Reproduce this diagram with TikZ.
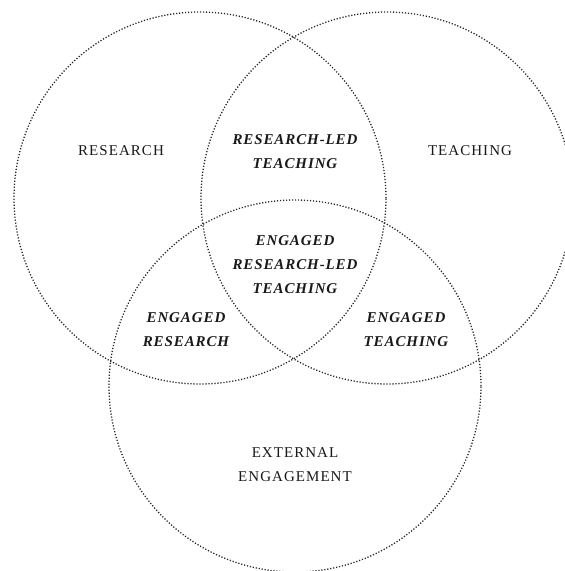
\documentclass[tikz,border=0pt]{standalone}
\usepackage{fontspec}
\setmainfont{Liberation Serif}
\usetikzlibrary{calc}

\tikzset{
 ring/.style={black!85, line width=1.3pt, dash pattern=on 1.2pt off 1.8pt},
 region/.style={align=center, text=black!90, font=\fontsize{15}{24}\selectfont\addfontfeature{LetterSpace=7}},
 overlap/.style={align=center, text=black!90, font=\fontsize{15}{24}\selectfont\bfseries\itshape\addfontfeature{LetterSpace=6}}
}

\begin{document}
\begin{tikzpicture} [x=1pt, y=-1pt]
\useasboundingbox (0,0) rectangle (565,571);
\clip (0,0) rectangle (565,571);
\coordinate (res) at (200,198);
\coordinate (tea) at (387,198);
\coordinate (ext) at (295,386);
\foreach \c in {res, tea, ext} {
 \draw[ring] (\c) circle [radius=186pt];
}
% single sets
\node[region] (resL) at (121,151) {RESEARCH};
\node[region] (teaL) at (470,151) {TEACHING};
\node[region] (extL) at (295,465) {EXTERNAL\\ENGAGEMENT};
% overlaps
\node[overlap] (resteaL) at (295,152) {RESEARCH-LED\\TEACHING};
\node[overlap] (resextL) at (186,329.5) {ENGAGED\\RESEARCH};
\node[overlap] (teaextL) at (406,329.5) {ENGAGED\\TEACHING};
\node[overlap] (allL) at (295,264.5) {ENGAGED\\RESEARCH-LED\\TEACHING};
\end{tikzpicture}
\end{document}
